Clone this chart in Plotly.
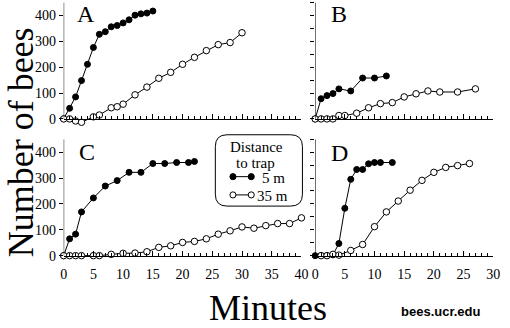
import plotly.graph_objects as go

W, H = 510, 328

# ---------------- data ----------------
A_5m_t = [0, 1, 2, 3, 4, 5, 6, 7, 8, 9, 10, 11, 12, 13, 14, 15]
A_5m = [0, 41, 85, 148, 211, 276, 327, 337, 356, 361, 371, 383, 401, 406, 409, 417]
A_35m_t = [0, 1, 2, 3, 5, 6, 8, 9, 10, 12, 14, 16, 18, 20, 22, 24, 26, 28, 30]
A_35m = [0, 0, -8, -13, 8, 15, 43, 47, 57, 93, 123, 157, 180, 211, 238, 264, 287, 295, 333]

B_5m_t = [0, 1, 2, 3, 4, 6, 8, 10, 12]
B_5m = [0, 78, 90, 98, 116, 108, 158, 158, 166]
B_35m_t = [0, 1, 2, 3, 4, 5, 7, 9, 11, 13, 15, 17, 19, 21, 24, 27]
B_35m = [0, 0, 0, 0, 13, 13, 22, 43, 59, 63, 85, 97, 108, 104, 104, 116]

C_5m_t = [0, 1, 2, 3, 5, 7, 9, 11, 13, 15, 17, 19, 21, 22]
C_5m = [0, 65, 83, 169, 223, 269, 290, 322, 322, 356, 356, 360, 360, 364]
C_35m_t = [0, 1, 2, 3, 5, 6, 8, 10, 12, 14, 16, 18, 20, 22, 24, 26, 28, 30, 32, 34, 36, 38, 40]
C_35m = [0, 0, 0, 0, 0, 0, 5, 9, 10, 15, 32, 38, 51, 55, 65, 83, 96, 111, 106, 116, 124, 124, 146]

D_5m_t = [0, 1, 2, 3, 4, 5, 6, 7, 8, 9, 10, 11, 13]
D_5m = [0, 0, 0, 3, 47, 183, 295, 333, 333, 355, 360, 360, 360]
D_35m_t = [1, 2, 3, 4, 6, 8, 10, 12, 14, 16, 18, 20, 22, 24, 26]
D_35m = [0, 0, 5, 2, 20, 43, 112, 169, 211, 253, 291, 322, 341, 348, 356]

panel_labels = ["A", "B", "C", "D"]
legend_title = ["Distance", "to trap"]
series_names = ["5 m", "35 m"]

SERIF = "Liberation Serif, Times New Roman, serif"


def px(x):
    return x / W


def py(y):
    return 1 - y / H


fig = go.Figure()

panels = [
    ("x", "y", A_5m_t, A_5m, A_35m_t, A_35m),
    ("x2", "y2", B_5m_t, B_5m, B_35m_t, B_35m),
    ("x3", "y3", C_5m_t, C_5m, C_35m_t, C_35m),
    ("x4", "y4", D_5m_t, D_5m, D_35m_t, D_35m),
]
for xa, ya, t5, v5, t35, v35 in panels:
    fig.add_trace(go.Scatter(
        x=t5, y=v5, xaxis=xa, yaxis=ya, mode="lines+markers",
        line=dict(color="black", width=1),
        marker=dict(color="black", size=6, line=dict(color="black", width=1)),
        cliponaxis=False, showlegend=False, name="5 m"))
    fig.add_trace(go.Scatter(
        x=t35, y=v35, xaxis=xa, yaxis=ya, mode="lines+markers",
        line=dict(color="black", width=1),
        marker=dict(color="white", size=6.5, line=dict(color="black", width=1)),
        cliponaxis=False, showlegend=False, name="35 m"))

tickfont = dict(family=SERIF, size=14, color="black")

YMIN = -20                    # room below zero for the dipping points in panel A
pxu = (120 - 2.5) / 450       # pixels per bee (vertical)

dom_x_left = [px(61), px(304)]
dom_x_right = [px(318), px(500)]
dom_y_top = [py(120 - YMIN * pxu), py(2.5)]
dom_y_bot = [py(258 - YMIN * pxu), py(140.5)]


def xaxis(domain, rng, pos_y, labels):
    return dict(domain=domain, range=rng, anchor="free", position=py(pos_y),
                showline=True, linecolor="black",
                linewidth=1, ticks="inside", ticklen=5, tickcolor="black", tickwidth=1,
                dtick=5, tick0=0, showgrid=False, zeroline=False,
                showticklabels=labels, tickfont=tickfont, ticklabelstandoff=6,
                minor=dict(dtick=1, tick0=0, ticks="inside", ticklen=3, tickcolor="black",
                           tickwidth=1, showgrid=False))


def yaxis(domain, anchor, dt, labels):
    return dict(domain=domain, range=[YMIN, 450], anchor=anchor, showline=False,
                ticks="outside", ticklen=4, tickcolor="black", tickwidth=1,
                dtick=dt, tick0=0, showgrid=False, zeroline=False,
                showticklabels=labels, tickfont=tickfont)


fig.update_layout(
    width=W, height=H, autosize=False,
    margin=dict(l=0, r=0, t=0, b=0),
    paper_bgcolor="white", plot_bgcolor="white",
    xaxis=xaxis(dom_x_left, [0, 40], 120, False),
    yaxis=yaxis(dom_y_top, "x", 100, True),
    xaxis2=xaxis(dom_x_right, [0, 30], 120, False),
    yaxis2=yaxis(dom_y_top, "x2", 50, False),
    xaxis3=xaxis(dom_x_left, [0, 40], 258, True),
    yaxis3=yaxis(dom_y_bot, "x3", 100, True),
    xaxis4=xaxis(dom_x_right, [0, 30], 258, True),
    yaxis4=yaxis(dom_y_bot, "x4", 50, False),
)

annotations = []
for lab, (cx, cy) in zip(panel_labels, [(84, 14), (342, 14), (85, 153), (343, 154)]):
    annotations.append(dict(text=lab, x=px(cx), y=py(cy), xref="paper", yref="paper",
                            xanchor="center", yanchor="middle", showarrow=False,
                            font=dict(family=SERIF, size=24, color="black")))
annotations.append(dict(text="Number of bees", x=px(17), y=py(144), xref="paper", yref="paper",
                        xanchor="center", yanchor="middle", textangle=-90, showarrow=False,
                        font=dict(family=SERIF, size=36, color="black")))
annotations.append(dict(text="Minutes", x=px(270), y=py(311), xref="paper", yref="paper",
                        xanchor="center", yanchor="middle", showarrow=False,
                        font=dict(family=SERIF, size=36, color="black")))
annotations.append(dict(text="<b>bees.ucr.edu</b>", x=px(447), y=py(314), xref="paper", yref="paper",
                        xanchor="center", yanchor="middle", showarrow=False,
                        font=dict(family="Liberation Sans, Arial, sans-serif", size=13, color="black")))
leg_font = dict(family=SERIF, size=15, color="black")
annotations.append(dict(text=legend_title[0], x=px(258), y=py(148), xref="paper", yref="paper",
                        xanchor="center", yanchor="middle", showarrow=False, font=leg_font))
annotations.append(dict(text=legend_title[1], x=px(257), y=py(164), xref="paper", yref="paper",
                        xanchor="center", yanchor="middle", showarrow=False, font=leg_font))
annotations.append(dict(text=series_names[0], x=px(262), y=py(179.5), xref="paper", yref="paper",
                        xanchor="left", yanchor="middle", showarrow=False, font=leg_font))
annotations.append(dict(text=series_names[1], x=px(257), y=py(198), xref="paper", yref="paper",
                        xanchor="left", yanchor="middle", showarrow=False, font=leg_font))

shapes = []
# y-axis lines from 0 to 450 only
for xr, yr in [("x", "y"), ("x2", "y2"), ("x3", "y3"), ("x4", "y4")]:
    shapes.append(dict(type="line", xref=xr, yref=yr, x0=0, x1=0, y0=0, y1=450,
                       line=dict(color="black", width=1)))

# rounded legend box
x0, x1, y0, y1, r = 216, 305, 136, 208, 12
pts = [
    ("M", (x0 + r, y0)), ("L", (x1 - r, y0)), ("Q", (x1, y0), (x1, y0 + r)),
    ("L", (x1, y1 - r)), ("Q", (x1, y1), (x1 - r, y1)), ("L", (x0 + r, y1)),
    ("Q", (x0, y1), (x0, y1 - r)), ("L", (x0, y0 + r)), ("Q", (x0, y0), (x0 + r, y0)),
]
path = ""
for cmd, *coords in pts:
    path += cmd + " " + " ".join(f"{px(a):.5f},{py(b):.5f}" for a, b in coords) + " "
path += "Z"
shapes.append(dict(type="path", path=path, xref="paper", yref="paper",
                   line=dict(color="black", width=1), fillcolor="rgba(0,0,0,0)"))
for yy, filled in [(178.3, True), (196.7, False)]:
    shapes.append(dict(type="line", xref="paper", yref="paper", x0=px(234), x1=px(252.7),
                       y0=py(yy), y1=py(yy), line=dict(color="black", width=1)))
    for cx in (234, 252.7):
        rr = 3.1
        shapes.append(dict(type="circle", xref="paper", yref="paper",
                           x0=px(cx - rr), x1=px(cx + rr), y0=py(yy + rr), y1=py(yy - rr),
                           line=dict(color="black", width=1),
                           fillcolor="black" if filled else "white"))

fig.update_layout(annotations=annotations, shapes=shapes)
fig.write_html("out.html")
